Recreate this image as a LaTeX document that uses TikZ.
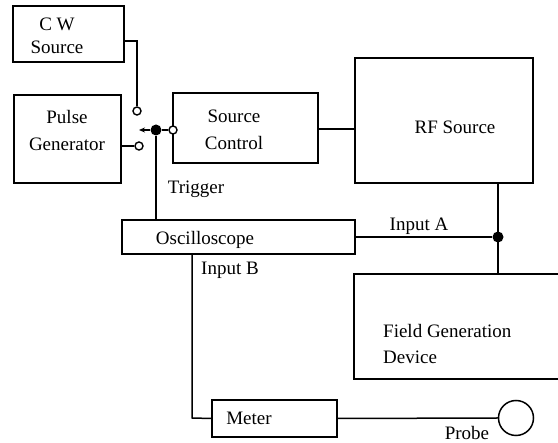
\documentclass[tikz,border=0pt]{standalone}
\usepackage{fontspec}
\setmainfont{Liberation Serif}
\usetikzlibrary{arrows.meta,calc}
\begin{document}
\begin{tikzpicture}[x=1pt,y=-1pt,
  box/.style={draw,line width=2.4pt,inner sep=0pt,minimum width=#1},
  thinbox/.style={draw,line width=1.6pt,inner sep=0pt,minimum width=#1},
  txt/.style={inner sep=0pt,font=\fontsize{19}{27}\selectfont,align=center},
  wire/.style={line width=1.5pt},
  term/.style={circle,draw,line width=1.4pt,minimum size=8pt,inner sep=0pt,fill=white},
  junc/.style={circle,fill=black,minimum size=11pt,inner sep=0pt}]
\useasboundingbox (0,0) rectangle (558,443);
% boxes
\node[box=111pt,minimum height=56pt] (cw) at (68.5,34) {};
\node[box=107pt,minimum height=88pt] (pg) at (67.5,139) {};
\node[box=145pt,minimum height=70pt] (sc) at (245.5,128) {};
\node[box=178pt,minimum height=125pt] (rf) at (444,120.5) {};
\node[thinbox=233pt,minimum height=34pt] (osc) at (238.5,237) {};
\node[box=210pt,minimum height=105pt] (fgd) at (459,326.5) {};
\node[thinbox=125pt,minimum height=37pt] (meter) at (274.5,418.5) {};
\node[circle,draw,line width=1.5pt,minimum size=35pt,inner sep=0pt] (probe) at (516,418) {};
% texts
\node[txt] (cwt) at (57,36) {C W\\[-4pt]Source};
\node[txt] (pgt) at (67,131) {Pulse\\Generator};
\node[txt] (sct) at (234,130) {Source\\Control};
\node[txt] (rft) at (455,127) {RF Source};
\node[txt] (osct) at (205,240) {Oscilloscope};
\node[txt,align=left,anchor=west] (fgdt) at (383,344) {Field Generation\\[-1pt]Device};
\node[txt] (metert) at (249,418) {Meter};
\node[txt] (trig) at (196,189) {Trigger};
\node[txt] (ina) at (419,226) {Input A};
\node[txt] (inb) at (230,270) {Input B};
\node[txt] (probet) at (467,433) {Probe};
% switch
\coordinate (cwc) at (137,41);
\node[term] (t1) at (137,111) {};
\node[term] (t2) at (139,146) {};
\node[junc] (dot) at (156,130) {};
\node[term] (t3) at (173,130) {};
\coordinate (tip) at (139,130);
\draw[wire] (cw.east |- cwc) -- (cwc) -- (t1.north);
\draw[wire] (pg.east |- t2) -- (t2.west);
\draw[wire,-{Stealth[length=6pt,width=5pt]}] (dot.west) -- (tip);
\draw[wire] (dot) -- (t3.west);
\draw[wire] (dot) -- (dot |- osc.north);
\draw[wire] (sc.east |- 0,129) -- (rf.west |- 0,129);
% input A
\node[junc] (ja) at (498,237) {};
\draw[wire] (osc.east) -- (ja);
\draw[wire] (rf.south -| ja) -- (fgd.north -| ja);
% input B
\coordinate (bcorner) at (192,418);
\draw[wire] (osc.south -| bcorner) -- (bcorner) -- (meter.west);
\draw[wire] (meter.east) -- (probe.west);
\end{tikzpicture}
\end{document}
